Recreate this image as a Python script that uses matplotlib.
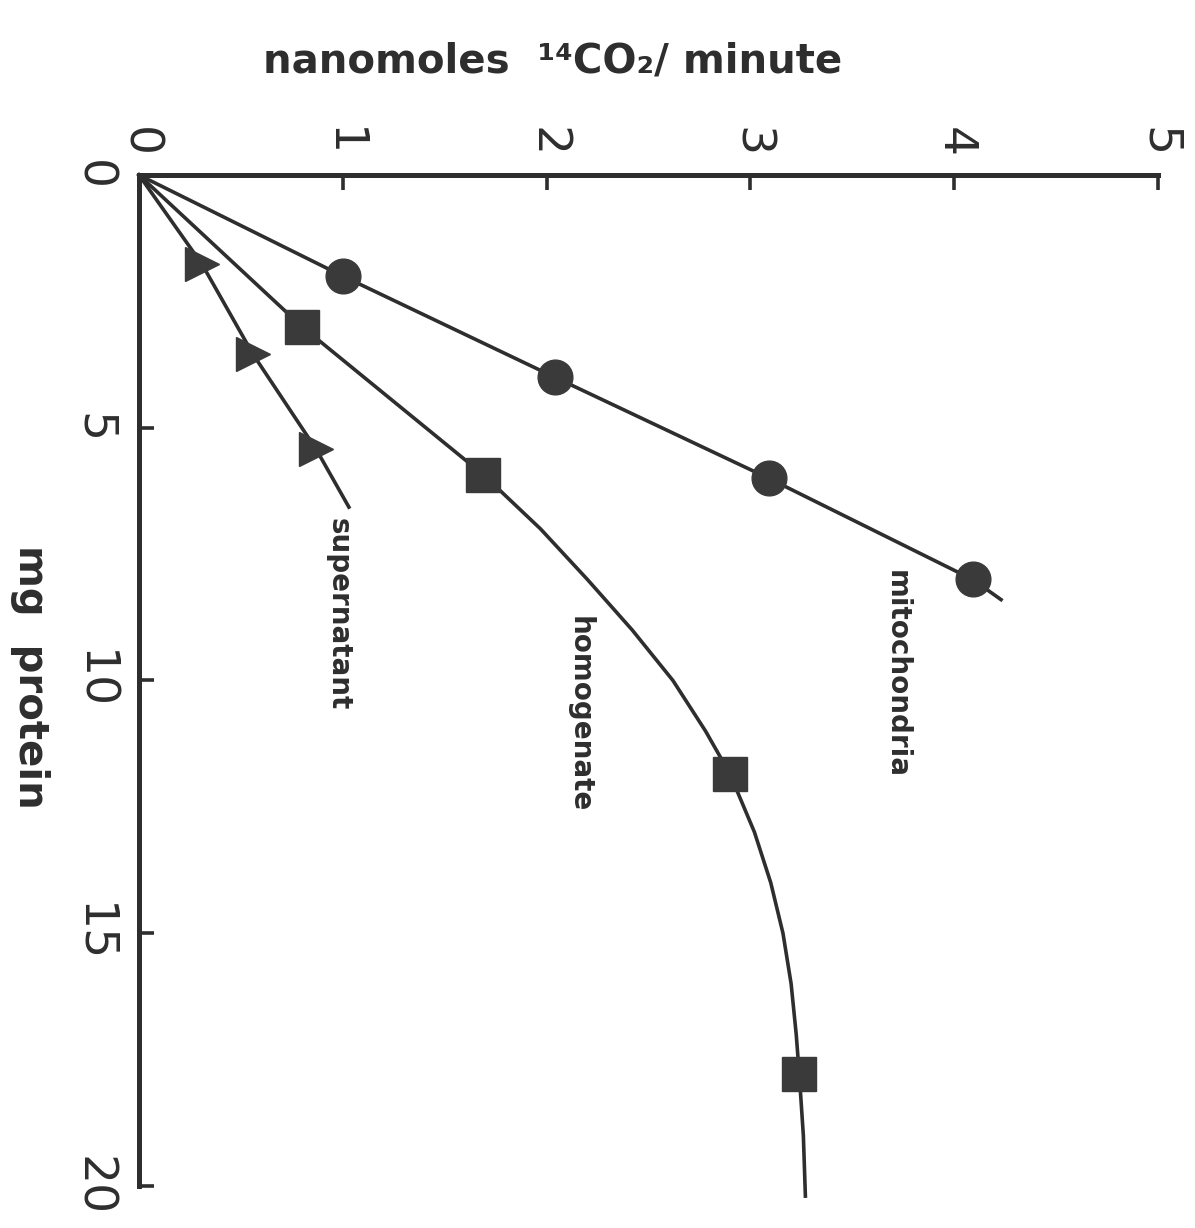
import matplotlib.pyplot as plt

INK = "#2e2e2e"

# rate of 14CO2 release (nanomoles / minute) against mg protein per fraction
mito_protein = [2.0, 4.0, 6.0, 8.0]
mito_rate = [1.0, 2.04, 3.09, 4.09]
mito_line_protein = [0.0, 2.0, 4.0, 6.0, 8.0, 8.4]
mito_line_rate = [0.0, 1.0, 2.04, 3.09, 4.09, 4.23]

homog_protein = [3.0, 5.93, 11.85, 17.79]
homog_rate = [0.80, 1.69, 2.90, 3.24]
# hand-drawn curve through the homogenate points
homog_curve_protein = [0.0, 3.0, 5.93, 7.0, 8.0, 9.0, 10.0, 11.0, 11.85,
                       13.0, 14.0, 15.0, 16.0, 17.0, 17.79, 19.0, 20.2]
homog_curve_rate = [0.0, 0.80, 1.69, 1.97, 2.20, 2.42, 2.62, 2.78, 2.90,
                    3.02, 3.10, 3.16, 3.20, 3.225, 3.24, 3.26, 3.27]

super_protein = [1.77, 3.55, 5.43]
super_rate = [0.31, 0.56, 0.87]
super_line_protein = [0.0, 1.77, 3.55, 5.43, 6.57]
super_line_rate = [0.0, 0.31, 0.56, 0.87, 1.03]

rate_ticks = [0, 1, 2, 3, 4, 5]
protein_ticks = [0, 5, 10, 15, 20]

# curve labels: (rate, protein, text)
curve_labels = [
    (3.72, 9.88, "mitochondria"),
    (2.16, 10.67, "homogenate"),
    (0.98, 8.69, "supernatant"),
]

fig = plt.figure(figsize=(11.95, 12.28), dpi=100)
ax = fig.add_axes([0.1163, 0.0342, 0.8527, 0.8233])

ax.plot(mito_line_rate, mito_line_protein, color=INK, lw=2.6, clip_on=False)
ax.plot(homog_curve_rate, homog_curve_protein, color=INK, lw=2.6,
        solid_joinstyle="round", clip_on=False)
ax.plot(super_line_rate, super_line_protein, color=INK, lw=2.6, clip_on=False)

ax.plot(mito_rate, mito_protein, "o", ms=25, color="#3a3a3a", clip_on=False)
ax.plot(homog_rate, homog_protein, "s", ms=25, color="#3a3a3a", clip_on=False)
ax.plot(super_rate, super_protein, ">", ms=25, color="#3a3a3a", clip_on=False)

for x, y, txt in curve_labels:
    ax.text(x, y, txt, rotation=-90, ha="center", va="center",
            fontsize=20, fontweight="bold", color=INK)

ax.set_xlim(0, 5)
ax.set_ylim(20, 0)

for side in ["right", "bottom"]:
    ax.spines[side].set_visible(False)
for side in ["top", "left"]:
    ax.spines[side].set_linewidth(3.6)
    ax.spines[side].set_color(INK)

ax.xaxis.tick_top()
ax.set_xticks(rate_ticks)
ax.set_yticks(protein_ticks)
ax.set_xticklabels([str(t) for t in rate_ticks], rotation=-90)
ax.set_yticklabels([str(t) for t in protein_ticks], rotation=-90, va="center")
ax.tick_params(direction="in", length=11, width=2.6, color=INK,
               labelsize=34, labelcolor=INK)
ax.tick_params(axis="x", pad=13)
ax.tick_params(axis="y", pad=17)

fig.text(553 / 1195, 1 - 72 / 1228, "nanomoles  ¹⁴CO₂/ minute",
         ha="center", va="baseline", fontsize=29, fontweight="bold", color=INK)
fig.text(30 / 1195, 1 - 677 / 1228, "mg  protein", rotation=-90,
         ha="center", va="center", fontsize=29, fontweight="bold", color=INK)

fig.savefig("out.png", dpi=100)
